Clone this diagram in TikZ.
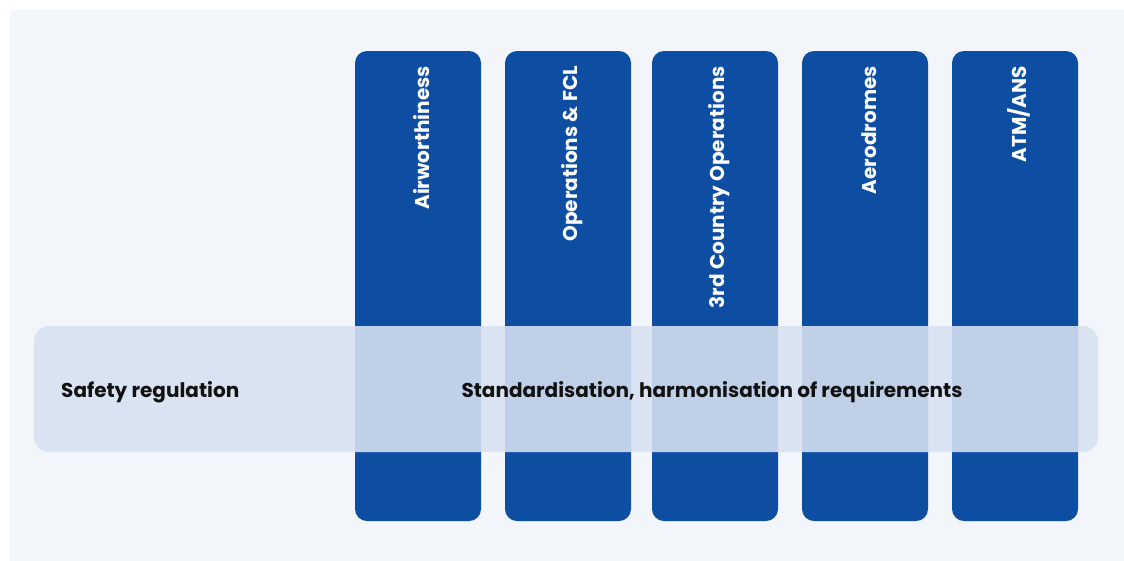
\documentclass[tikz,border=0pt]{standalone}
\usepackage{fontspec}
\setmainfont{Poppins}
\definecolor{panelbg}{HTML}{F2F5FA}
\definecolor{easablue}{HTML}{0D4EA2}
\definecolor{bandfill}{HTML}{D7E1F1}
\definecolor{darktext}{HTML}{111111}
\tikzset{
  domainbox/.style={fill=easablue, rounded corners=12pt, minimum width=126pt, minimum height=470pt, inner sep=0pt},
  domainlabel/.style={text=white, font=\bfseries\fontsize{20}{24}\selectfont, rotate=90, anchor=east, inner sep=0pt},
  bandbox/.style={fill=bandfill, fill opacity=0.89, rounded corners=15pt, minimum width=1064pt, minimum height=126pt, inner sep=0pt},
  bandlabel/.style={text=darktext, font=\bfseries\fontsize{20}{24}\selectfont, inner sep=0pt}
}
\begin{document}
\begin{tikzpicture}[x=1pt, y=-1pt]
   \useasboundingbox (0,0) rectangle (1124,560);
   \fill[panelbg] (10,10) rectangle (1130,566);
   \node[domainbox] (air) at (418, 286) {};
   \node[domainbox] (ops) at (568, 286) {};
   \node[domainbox] (tco) at (715, 286) {};
   \node[domainbox] (adr) at (865, 286) {};
   \node[domainbox] (atm) at (1015, 286) {};
   \node[domainlabel] (lair) at (422, 66) {Airworthiness};
   \node[domainlabel] (lops) at (572, 66) {Operations \& FCL};
   \node[domainlabel] (ltco) at (719, 66) {3rd Country Operations};
   \node[domainlabel] (ladr) at (869, 66) {Aerodromes};
   \node[domainlabel] (latm) at (1019, 66) {ATM/ANS};
   \node[bandbox] (reg) at (566, 389) {};
   \node[bandlabel, anchor=west] (lsafe) at (61, 392) {Safety regulation};
   \node[bandlabel] (lstd) at (712, 392) {Standardisation, harmonisation of requirements};
\end{tikzpicture}
\end{document}
